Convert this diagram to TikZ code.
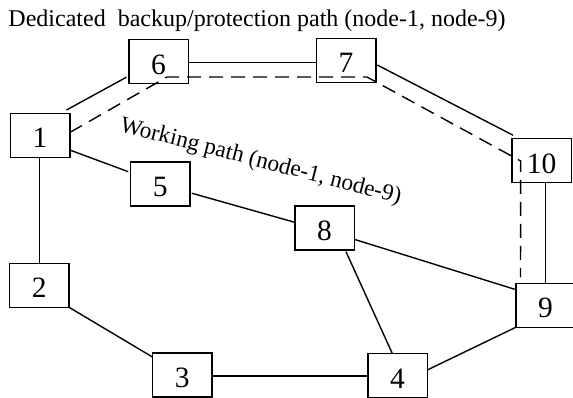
\documentclass[tikz,border=0pt]{standalone}
\usepackage{fontspec}
\setmainfont{Liberation Serif}
\usetikzlibrary{calc}
\begin{document}
\begin{tikzpicture}[x=1pt,y=-1pt,
  router/.style={draw, line width=1.5pt, rectangle, minimum width=59.5pt,
    minimum height=44pt, inner sep=0pt, outer sep=0pt,
    font=\fontsize{29.5}{30}\selectfont, text height=25pt, text depth=0pt},
  link/.style={line width=1.4pt},
  backup/.style={line width=1.4pt, dash pattern=on 14pt off 8pt},
  caption/.style={font=\fontsize{24}{26}\selectfont, inner sep=0pt},
  pathlabel/.style={font=\fontsize{23.3}{26}\selectfont, inner sep=0pt}]
\useasboundingbox (0,0) rectangle (573,397);

% routers
\node[router] (n1) at (40,135.3) {1};
\node[router] (n2) at (39.3,285.3) {2};
\node[router] (n3) at (182.2,375) {3};
\node[router] (n4) at (397.5,375.5) {4};
\node[router] (n5) at (160.3,184.2) {5};
\node[router] (n6) at (158.5,61.5) {6};
\node[router] (n7) at (346,60.3) {7};
\node[router] (n8) at (324.5,228) {8};
\node[router] (n9) at (545.5,305.3) {9};
\node[router] (n10) at (541.7,160.5) {10};

% physical links
\draw[link] ($(n1.north east)+(-3.3,-3.3)$) -- ($(n6.south west)+(-2.3,-6.3)$);
\draw[link] ($(n1.east)+(0,14.7)$) -- ($(n5.west)+(-2.3,-12.5)$);
\draw[link] (n1.south -| n2.north) -- (n2.north);
\draw[link] (n2.south east) -- ($(n3.north west)+(0,4)$);
\draw[link] ([yshift=-1pt]n3.east) -- ([yshift=-1pt]n3.east -| n4.west);
\draw[link] ($(n5.east)+(1.7,9)$) -- ($(n8.west)+(0,-5.7)$);
\draw[link] ($(n8.east)+(0,11.3)$) -- ($(n9.west)+(-1,-16)$);
\draw[link] ($(n8.south)+(21.5,1.7)$) -- ($(n4.north)+(-5.2,0)$);
\draw[link] ($(n4.east)+(0,-5.5)$) -- (n9.south west);
\draw[link] ([yshift=-1.2pt]n6.east) -- ([yshift=-1.2pt]n6.east -| n7.west);
\draw[link] ($(n7.east)+(1.5,4.7)$) -- ($(n10.north west)+(1,-3.3)$);
\draw[link] (n9.north) -- (n9.north |- n10.south);

% dedicated backup path 1-6-7-10-9
\draw[backup] ($(n1.east)+(0,-2.8)$) -- ($(n6)+(8.5,15.5)$) -- ($(n7)+(21,16.7)$)
  -- ($(n10)+(-21,0.5)$) -- ($(n9.north)+(-25,-6)$);

% captions
\node[caption, anchor=base west] (title) at (8.3,26.7)
  {Dedicated\ \ backup/protection path (node-1, node-9)};
\node[pathlabel, anchor=base west, rotate=-14.5] (working) at (119,131)
  {Working path (node-1, node-9)};
\end{tikzpicture}
\end{document}
